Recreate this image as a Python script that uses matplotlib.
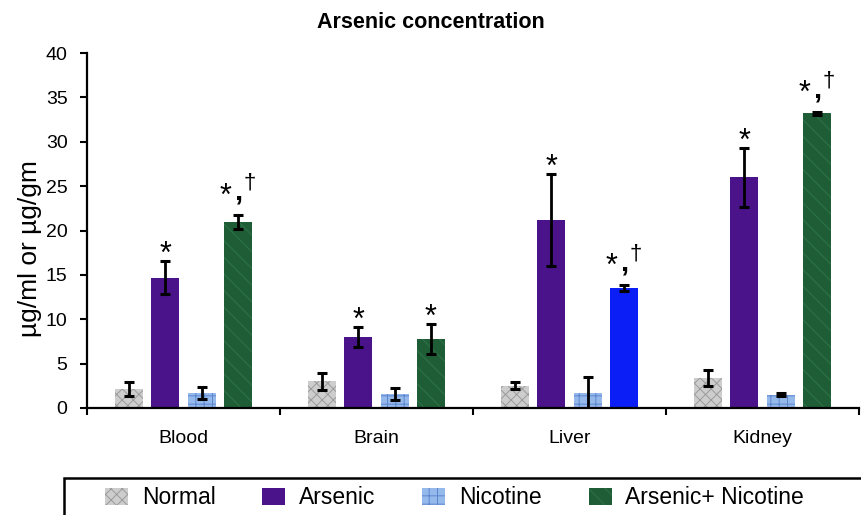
import numpy as np
import matplotlib
matplotlib.use("Agg")
import matplotlib.pyplot as plt
from matplotlib.patches import Rectangle

plt.rcParams['font.family'] = ['Liberation Sans', 'DejaVu Sans']
plt.rcParams['hatch.linewidth'] = 0.7

organs = ["Blood", "Brain", "Liver", "Kidney"]
groups = ["Normal", "Arsenic", "Nicotine", "Arsenic+ Nicotine"]

# values (ug/ml or ug/gm), with error bar half-lengths
normal = [2.1, 3.0, 2.5, 3.4]
normal_err = [0.8, 1.0, 0.4, 0.9]
arsenic = [14.7, 8.0, 21.2, 26.0]
arsenic_err = [1.9, 1.1, 5.2, 3.3]
nicotine = [1.7, 1.6, 1.7, 1.5]
nicotine_err = [0.7, 0.7, 1.8, 0.2]
combo = [21.0, 7.8, 13.5, 33.2]
combo_err = [0.8, 1.7, 0.35, 0.15]

# significance marks
arsenic_marks = ["*", "*", "*", "*"]
combo_marks = ["*,†", "*", "*,†", "*,†"]

# bar styles (liver arsenic+nicotine bar is plain blue in the original)
styles = [
    dict(facecolor="#cdcdcd", edgecolor="#9b9b9b", hatch="xxx"),
    dict(facecolor="#4a1389", edgecolor="#4a1389", hatch=None),
    dict(facecolor="#96b9ec", edgecolor="#5b86cf", hatch="++"),
    dict(facecolor="#1f5d36", edgecolor="#2f7448", hatch="\\\\"),
]
combo_colors = ["#1f5d36", "#1f5d36", "#0a1ef5", "#1f5d36"]
combo_hatch = ["\\\\", "\\\\", None, "\\\\"]

fig = plt.figure(figsize=(8.61, 5.15), dpi=100)
ax = fig.add_axes([87 / 861, 1 - 408 / 515, (859 - 87) / 861, (408 - 53) / 515])

x = np.arange(len(organs))
step = 0.187
width = 0.145
series = [(normal, normal_err), (arsenic, arsenic_err),
          (nicotine, nicotine_err), (combo, combo_err)]

for i, (vals, errs) in enumerate(series):
    xs = x + (i - 1.5) * step
    if i == 3:
        for j in range(len(organs)):
            ax.bar(xs[j], vals[j], width, facecolor=combo_colors[j],
                   edgecolor="#2f7448" if combo_hatch[j] else combo_colors[j],
                   hatch=combo_hatch[j], linewidth=0, zorder=2)
    else:
        ax.bar(xs, vals, width, linewidth=0, zorder=2, **styles[i])
    ax.errorbar(xs, vals, yerr=errs, fmt="none", ecolor="black",
                elinewidth=2, capsize=3.8, capthick=2.2, zorder=3)

# significance labels above error bars
def mark(xc, ytop, label):
    if label == "*":
        ax.annotate("*", (xc, ytop), xytext=(0, -2), textcoords="offset pixels",
                    ha="center", va="baseline", fontsize=22)
    else:
        ax.annotate("*", (xc, ytop), xytext=(-12, 10), textcoords="offset pixels",
                    ha="center", va="baseline", fontsize=22)
        ax.annotate(",", (xc, ytop), xytext=(0, 15), textcoords="offset pixels",
                    ha="center", va="baseline", fontsize=21, fontweight="bold")
        ax.annotate("†", (xc, ytop), xytext=(12, 26), textcoords="offset pixels",
                    ha="center", va="baseline", fontsize=16)

for j in range(len(organs)):
    mark(x[j] - 0.5 * step, arsenic[j] + arsenic_err[j], arsenic_marks[j])
    mark(x[j] + 1.5 * step, combo[j] + combo_err[j], combo_marks[j])

ax.set_xlim(-0.5, len(organs) - 0.5)
ax.set_ylim(0, 40)
ax.set_yticks(np.arange(0, 41, 5))
ax.set_xticks(x)
ax.set_xticklabels(organs, fontsize=14)
ax.set_xticks(np.arange(-0.5, len(organs), 1), minor=True)
ax.tick_params(axis="x", which="major", length=0, pad=16)
ax.tick_params(axis="x", which="minor", length=5, width=1.5, direction="out")
ax.tick_params(axis="y", length=5, width=1.5, direction="out", pad=9, labelsize=14)

for s in ["top", "right"]:
    ax.spines[s].set_visible(False)
for s in ["left", "bottom"]:
    ax.spines[s].set_linewidth(1.6)

fig.text(431 / 861, 1 - 22 / 515, "Arsenic concentration", fontsize=15.5,
         fontweight="bold", ha="center", va="center")
fig.text(30 / 861, 1 - 249 / 515, "µg/ml or µg/gm", fontsize=19,
         rotation=90, ha="center", va="center")

# legend, its frame runs off the right and bottom edges
handles = [Rectangle((0, 0), 1, 1, facecolor="#cdcdcd", edgecolor="#9b9b9b", hatch="xxx", linewidth=0),
           Rectangle((0, 0), 1, 1, facecolor="#4a1389", linewidth=0),
           Rectangle((0, 0), 1, 1, facecolor="#96b9ec", edgecolor="#5b86cf", hatch="++", linewidth=0),
           Rectangle((0, 0), 1, 1, facecolor="#1f5d36", edgecolor="#2f7448", hatch="\\\\", linewidth=0)]
fig.legend(handles, groups, loc="center left", bbox_to_anchor=(105 / 861, 1 - 498 / 515),
           ncol=4, frameon=False, fontsize=16.5, handlelength=1.0, handleheight=0.7,
           handletextpad=0.6, columnspacing=2.05, borderpad=0, borderaxespad=0)
fig.add_artist(Rectangle((64 / 861, -0.1), 1.0, (515 - 478) / 515 + 0.1,
                         transform=fig.transFigure, fill=False, linewidth=1.8,
                         edgecolor="black", clip_on=False))

fig.savefig("out.png", dpi=100)
